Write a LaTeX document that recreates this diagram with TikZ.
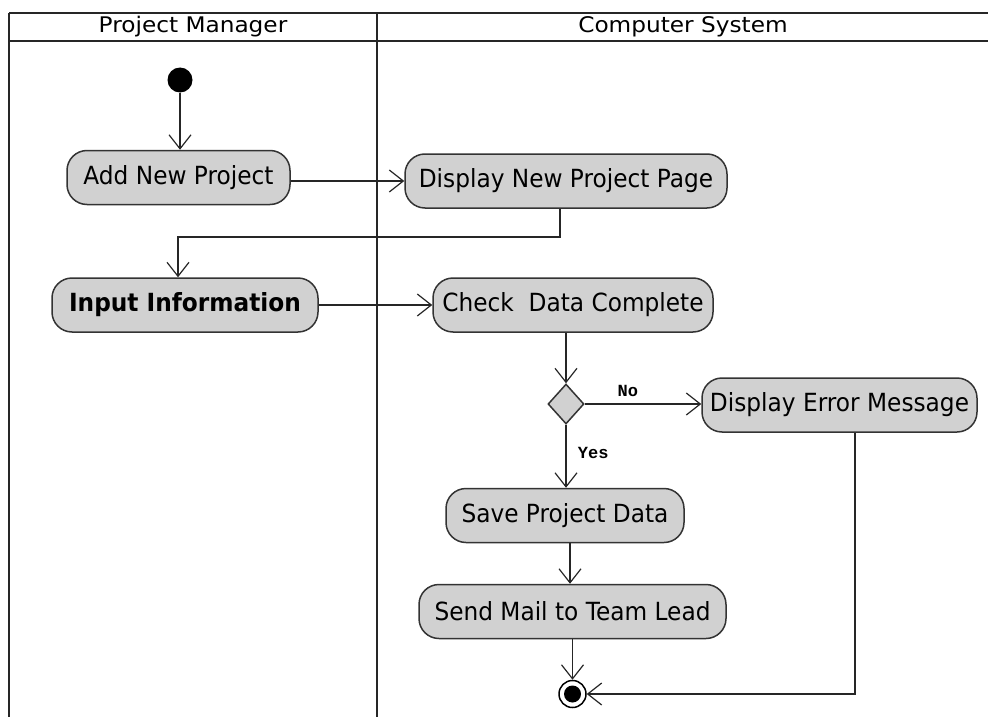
\documentclass[tikz,border=0pt]{standalone}
\usepackage{fontspec}
\setmainfont{DejaVu Sans}
\newfontfamily\actfont[FakeStretch=0.93]{DejaVu Sans}
\newfontfamily\headfont[FakeStretch=1.08]{DejaVu Sans}
\newfontfamily\guardfont{Liberation Mono}
\usetikzlibrary{arrows.meta,shapes.geometric}
\begin{document}
\begin{tikzpicture}[x=1pt,y=-1pt,
  lane/.style={line width=2.6pt,draw=black!85},
  act/.style={draw=black!80,line width=1.5pt,fill=black!18,rounded corners=20pt,
    minimum height=54pt,inner sep=0pt,font=\actfont\fontsize{25}{28}\selectfont},
  flow/.style={line width=1.2pt,draw=black!85,-{Straight Barb[length=14pt,width=22pt,line width=1.2pt]}},
  guard/.style={font=\guardfont\bfseries\fontsize{17}{20}\selectfont},
  head/.style={font=\headfont\fontsize{21.5}{24}\selectfont}]
\useasboundingbox (0,0) rectangle (988,717);
% swimlane frame
\draw[lane] (9,13) -- (988,13);
\draw[lane] (9,41) -- (988,41);
\draw[lane] (9,13) -- (9,717);
\draw[lane] (377,13) -- (377,717);
\node[head] (pm) at (193,27) {Project Manager};
\node[head] (cs) at (683,27) {Computer System};
% start and end
\node[circle,fill=black,minimum size=25pt,inner sep=0pt] (start) at (180,80) {};
\node[circle,draw=black,line width=1.5pt,fill=white,minimum size=27pt,inner sep=0pt] (stop) at (572.5,694) {};
\node[circle,fill=black,minimum size=17pt,inner sep=0pt] (stopdot) at (572.5,694) {};
% activities
\node[act,minimum width=223pt] (add) at (178.5,177.5) {Add New Project};
\node[act,minimum width=322pt] (dnp) at (566,181) {Display New Project Page};
\node[act,minimum width=266pt,font=\actfont\bfseries\fontsize{25}{28}\selectfont] (inp) at (185,305) {Input Information};
\node[act,minimum width=280pt] (chk) at (573,305) {Check\ \ Data Complete};
\node[diamond,draw=black!80,line width=1.5pt,fill=black!18,minimum width=36pt,minimum height=40pt,inner sep=0pt] (dec) at (566,404) {};
\node[act,minimum width=275pt] (err) at (839.5,405) {Display Error Message};
\node[act,minimum width=238pt] (save) at (565,515.5) {Save Project Data};
\node[act,minimum width=307pt] (mail) at (572.5,611.5) {Send Mail to Team Lead};
% control flow
\draw[flow] (start) -- (start |- add.north);
\draw[flow] (add.east |- dnp) -- (dnp.west);
\draw[flow] (dnp.south -| 560,0) -- (560,237) -- (178,237) -- (178,0 |- inp.north);
\draw[flow] (inp.east) -- (chk.west);
\draw[flow] (chk.south -| dec) -- (dec.north);
\draw[flow] (dec.east) -- node[guard,above,pos=0.37,yshift=3pt] (no) {No} (dec.east -| err.west);
\draw[flow] (dec.south) -- node[guard,right,pos=0.45,xshift=8pt] (yes) {Yes} (dec |- save.north);
\draw[flow] (save.south -| 570,0) -- (570,0 |- mail.north);
\draw[flow] (mail.south) -- (stop.north);
\draw[flow] (err.south -| 855,0) -- (855,694) -- (stop.east);
\end{tikzpicture}
\end{document}
